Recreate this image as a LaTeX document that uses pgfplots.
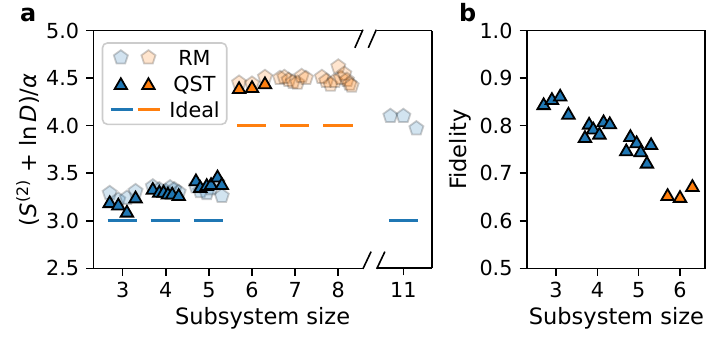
\documentclass[border=0pt]{standalone}
\usepackage{fontspec}
\setmainfont{DejaVu Sans}
\usepackage{pgfplots}
\pgfplotsset{compat=1.18}
\definecolor{c1}{RGB}{31,119,180}
\definecolor{c2}{RGB}{255,127,14}
\newcommand{\tickfont}{\fontsize{10.4}{12}\selectfont}
\newcommand{\labfont}{\fontsize{11.3}{13}\selectfont}

\pgfplotsset{
  panel/.style={
    scale only axis, height=118.9bp,
    tick align=outside, major tick length=3.6bp,
    every tick/.style={black, line width=0.8bp},
    axis line style={line width=0.8bp},
    tick label style={font=\tickfont},
    /pgf/number format/assume math mode=true,
    clip=false,
  },
  rm/.style={only marks, mark=pentagon*, mark size=3.7bp,
    mark options={fill=#1, fill opacity=0.2, draw=black, draw opacity=0.2, line width=0.9bp}, forget plot},
  qst/.style={only marks, mark=triangle*, mark size=3.6bp,
    mark options={fill=#1, draw=black, line width=0.9bp, yshift=-0.9bp}, forget plot},
  ideal/.style={#1, line width=1.4bp, forget plot, no marks},
}

\pgfplotstableread{
x y
2.7 3.29
2.9 3.22
3.1 3.24
3.3 3.31
3.7 3.36
3.85 3.33
4.0 3.31
4.1 3.35
4.2 3.33
4.3 3.30
4.7 3.36
4.8 3.31
4.95 3.29
5.05 3.34
5.2 3.40
5.3 3.26
}\rmblue

\pgfplotstableread{
x y
5.7 4.45
6.0 4.44
6.3 4.51
6.65 4.50
6.75 4.51
6.85 4.48
6.95 4.46
7.05 4.45
7.15 4.52
7.25 4.50
7.62 4.51
7.72 4.47
7.82 4.43
7.92 4.47
8.0 4.62
8.06 4.50
8.14 4.545
8.2 4.48
8.26 4.44
8.31 4.42
}\rmorange

\pgfplotstableread{
x y
10.7 4.10
11.0 4.10
11.3 3.97
}\rmeleven

\pgfplotstableread{
x y
2.7 3.20
2.9 3.175
3.1 3.10
3.3 3.25
3.7 3.34
3.85 3.31
3.95 3.31
4.05 3.29
4.15 3.29
4.3 3.275
4.7 3.43
4.8 3.36
4.95 3.38
5.05 3.39
5.2 3.47
5.3 3.39
}\qstblue

\pgfplotstableread{
x y
5.7 4.40
6.0 4.41
6.3 4.45
}\qstorange

\pgfplotstableread{
x y
2.7 0.846
2.9 0.857
3.1 0.864
3.3 0.826
3.7 0.777
3.8 0.805
3.9 0.795
4.05 0.784
4.15 0.810
4.3 0.806
4.7 0.749
4.8 0.779
4.95 0.766
5.05 0.747
5.2 0.723
5.3 0.762
}\fidblue

\pgfplotstableread{
x y
5.7 0.655
6.0 0.651
6.3 0.674
}\fidorange

\begin{document}
\begin{tikzpicture}
\useasboundingbox (0,0) rectangle (353.5bp,170.5bp);

% ---------- panel a, left part ----------
\begin{axis}[panel, name=A1, at={(46.65bp,36.35bp)}, anchor=south west,
  width=134.7bp, xmin=2.32, xmax=8.566, ymin=2.5, ymax=5.0,
  axis x line*=box, axis y line*=left, xtick pos=left, ytick pos=left,
  xtick={3,4,5,6,7,8}, ytick={2.5,3.0,3.5,4.0,4.5,5.0},
  yticklabel style={/pgf/number format/.cd, fixed, fixed zerofill, precision=1},
  legend cell align=center,
  legend style={at={(0.031,0.951)}, anchor=north west, draw=black!20, line width=0.8bp,
    rounded corners=2.5bp, fill=white, inner xsep=3.5bp, inner ysep=3.5bp,
    row sep=5.45bp, column sep=4bp, font=\tickfont,
    nodes={inner sep=0bp, text height=7.6bp, text depth=0bp}},
]
\addlegendimage{legend image code/.code={
  \draw[draw=none] plot[mark=pentagon*, mark size=3.7bp, mark options={fill=c1, fill opacity=0.2, draw=black, draw opacity=0.2, line width=0.9bp}] coordinates {(5bp,0bp)};
  \draw[draw=none] plot[mark=pentagon*, mark size=3.7bp, mark options={fill=c2, fill opacity=0.2, draw=black, draw opacity=0.2, line width=0.9bp}] coordinates {(18.8bp,0bp)};
  \draw[draw=none, fill=none] (0bp,0bp) -- (24.5bp,0bp);
}}
\addlegendentry{RM}
\addlegendimage{legend image code/.code={
  \draw[draw=none] plot[mark=triangle*, mark size=3.6bp, mark options={fill=c1, draw=black, line width=0.9bp, yshift=-0.9bp}] coordinates {(5bp,0bp)};
  \draw[draw=none] plot[mark=triangle*, mark size=3.6bp, mark options={fill=c2, draw=black, line width=0.9bp, yshift=-0.9bp}] coordinates {(18.8bp,0bp)};
  \draw[draw=none, fill=none] (0bp,0bp) -- (24.5bp,0bp);
}}
\addlegendentry{QST}
\addlegendimage{legend image code/.code={
  \draw[c1, line width=1.4bp] (0bp,0bp) -- (11bp,0bp);
  \draw[c2, line width=1.4bp] (13.5bp,0bp) -- (24.5bp,0bp);
}}
\addlegendentry{Ideal}

\addplot[rm=c1] table {\rmblue};
\addplot[rm=c2] table {\rmorange};
\addplot[ideal=c1] coordinates {(2.65,3.0) (3.33,3.0)};
\addplot[ideal=c1] coordinates {(3.65,3.0) (4.33,3.0)};
\addplot[ideal=c1] coordinates {(4.65,3.0) (5.33,3.0)};
\addplot[ideal=c2] coordinates {(5.65,4.0) (6.33,4.0)};
\addplot[ideal=c2] coordinates {(6.65,4.0) (7.33,4.0)};
\addplot[ideal=c2] coordinates {(7.65,4.0) (8.33,4.0)};
\addplot[qst=c1] table {\qstblue};
\addplot[qst=c2] table {\qstorange};
\end{axis}

% ---------- panel a, right part ----------
\begin{axis}[panel, name=A2, at={(188.25bp,36.35bp)}, anchor=south west,
  width=27.75bp, xmin=10.38, xmax=11.66, ymin=2.5, ymax=5.0,
  axis x line*=box, axis y line*=right, xtick pos=left,
  xtick={11}, ytick=\empty,
]
\addplot[rm=c1] table {\rmeleven};
\addplot[ideal=c1] coordinates {(10.665,3.0) (11.335,3.0)};
\end{axis}

% break marks
\draw[line width=0.8bp] ([shift={(-3.9bp,-8.65bp)}]A1.north east) -- ([shift={(0.1bp,0.4bp)}]A1.north east);
\draw[line width=0.8bp] ([shift={(-4.1bp,-8.65bp)}]A2.north west) -- ([shift={(-0.1bp,0.4bp)}]A2.north west);
\draw[line width=0.8bp] ([shift={(0.1bp,-0.3bp)}]A1.south east) -- ([shift={(4.2bp,8.35bp)}]A1.south east);
\draw[line width=0.8bp] ([shift={(0.1bp,-0.3bp)}]A2.south west) -- ([shift={(4.2bp,8.35bp)}]A2.south west);

% ---------- panel b ----------
\begin{axis}[panel, name=B, at={(263.35bp,36.35bp)}, anchor=south west,
  width=89.15bp, xmin=2.29, xmax=6.605, ymin=0.5, ymax=1.0,
  xtick pos=left, ytick pos=left,
  xtick={3,4,5,6}, ytick={0.5,0.6,0.7,0.8,0.9,1.0},
  yticklabel style={/pgf/number format/.cd, fixed, fixed zerofill, precision=1},
]
\addplot[qst=c1] table {\fidblue};
\addplot[qst=c2] table {\fidorange};
\end{axis}

% labels
\node[anchor=base, font=\labfont] at (131.3bp,8.2bp) {Subsystem size};
\node[anchor=base, font=\labfont] at (308.2bp,8.2bp) {Subsystem size};
\node[anchor=base, rotate=90, font=\labfont] at (18bp,95.6bp)
  {(\textit{S}\textsuperscript{(2)} + ln\,\textit{D})/\textit{α}};
\node[anchor=base, rotate=90, font=\labfont] at (233bp,95.6bp) {Fidelity};
\node[anchor=base west, font=\bfseries\fontsize{12}{14}\selectfont] at (6.5bp,159.6bp) {a};
\node[anchor=base west, font=\bfseries\fontsize{12}{14}\selectfont] at (226bp,159.6bp) {b};
\end{tikzpicture}
\end{document}
